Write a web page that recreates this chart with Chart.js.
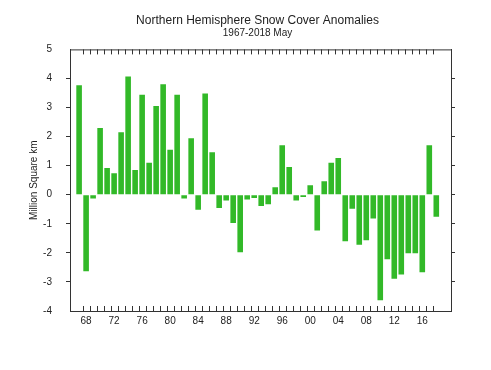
<!DOCTYPE html>
<html>
<head>
<meta charset="utf-8">
<script src="https://cdn.jsdelivr.net/npm/chart.js@4/dist/chart.umd.min.js"></script>
<style>
  html, body { margin: 0; padding: 0; background: #fff; }
  #wrap { width: 491px; height: 370px; }
</style>
</head>
<body>
<div id="wrap"><canvas id="c" width="491" height="370"></canvas></div>
<script>
const years = [];
for (let y = 1967; y <= 2018; y++) years.push(y);

// May snow cover anomalies, million km2
const anomalies = [
  3.77, -2.63, -0.13, 2.30, 0.92, 0.74, 2.15, 4.07, 0.85, 3.44,
  1.10, 3.05, 3.80, 1.55, 3.44, -0.13, 1.94, -0.52, 3.48, 1.46,
  -0.46, -0.20, -0.97, -1.98, -0.16, -0.11, -0.39, -0.33, 0.26, 1.70,
  0.95, -0.20, -0.08, 0.33, -1.23, 0.46, 1.10, 1.26, -1.60, -0.48,
  -1.72, -1.57, -0.82, -3.63, -2.22, -2.89, -2.74, -2.01, -2.01, -2.67,
  1.70, -0.76
];

const yTicks = [-4, -3, -2, -1, 0, 1, 2, 3, 4, 5];
const labelYears = [1968, 1972, 1976, 1980, 1984, 1988, 1992, 1996, 2000, 2004, 2008, 2012, 2016];

const axisColor = "#333";
// no tick marks at the frame corners
const tickColor = (c) => (c.tick && (c.tick.value === 5 || c.tick.value === -4) ? "rgba(0,0,0,0)" : axisColor);

// frame top line + inward year ticks on top and bottom
const frameTicks = {
  id: "frameTicks",
  afterDraw(chart) {
    const { ctx, chartArea, scales } = chart;
    ctx.save();
    ctx.strokeStyle = axisColor;
    ctx.lineWidth = 1;
    ctx.beginPath();
    ctx.moveTo(chartArea.left, chartArea.top + 0.5);
    ctx.lineTo(chartArea.right, chartArea.top + 0.5);
    for (let y = 1967; y <= 2017; y++) {
      const px = Math.round(scales.x.getPixelForValue(y + 0.5)) + 0.5;
      ctx.moveTo(px, chartArea.top);
      ctx.lineTo(px, chartArea.top + 5);
      ctx.moveTo(px, chartArea.bottom);
      ctx.lineTo(px, chartArea.bottom - 5);
    }
    ctx.stroke();
    ctx.restore();
  },
};

new Chart(document.getElementById("c"), {
  type: "bar",
  data: {
    datasets: [
      {
        label: "Anomaly",
        data: years.map((y, i) => ({ x: y, y: anomalies[i] })),
        backgroundColor: "rgb(50,185,40)",
        borderWidth: 0,
        categoryPercentage: 1,
        barPercentage: 0.8,
      },
    ],
  },
  options: {
    responsive: false,
    animation: false,
    layout: { padding: { left: 24, right: 0, top: 0, bottom: 0 } },
    plugins: {
      legend: { display: false },
      tooltip: { enabled: false },
      title: {
        display: true,
        text: "Northern Hemisphere Snow Cover Anomalies",
        color: "#222",
        font: { family: "'Liberation Sans', Arial, sans-serif", size: 12, weight: "normal" },
        padding: { top: 13, bottom: 0 },
      },
      subtitle: {
        display: true,
        text: "1967-2018 May",
        color: "#222",
        font: { family: "'Liberation Sans', Arial, sans-serif", size: 10 },
        padding: { top: 0, bottom: 10 },
      },
    },
    scales: {
      x: {
        type: "linear",
        offset: false,
        min: 1965.7,
        max: 2020.1,
        afterFit: (s) => { s.height = 59; },
        afterBuildTicks: (s) => { s.ticks = labelYears.map((v) => ({ value: v })); },
        ticks: {
          color: "#222",
          padding: 4,
          autoSkip: false,
          maxRotation: 0,
          font: { family: "'Liberation Sans', Arial, sans-serif", size: 10 },
          callback: (v) => String(v % 100).padStart(2, "0"),
        },
        grid: { display: false, drawTicks: false, offset: false },
        border: { display: true, color: axisColor },
      },
      y: {
        min: -4,
        max: 5,
        afterFit: (s) => { s.width = 46; },
        afterBuildTicks: (s) => { s.ticks = yTicks.map((v) => ({ value: v })); },
        title: {
          display: true,
          text: "Million Square km",
          color: "#222",
          font: { family: "'Liberation Sans', Arial, sans-serif", size: 10 },
          padding: { top: 4, bottom: 0 },
        },
        ticks: {
          color: "#222",
          padding: 14,
          font: { family: "'Liberation Sans', Arial, sans-serif", size: 10 },
        },
        grid: { drawOnChartArea: false, tickLength: 4, color: tickColor },
        border: { display: true, color: axisColor },
      },
      y2: {
        position: "right",
        min: -4,
        max: 5,
        afterFit: (s) => { s.width = 40; },
        afterBuildTicks: (s) => { s.ticks = yTicks.map((v) => ({ value: v })); },
        ticks: { display: false },
        grid: { drawOnChartArea: false, tickLength: 4, color: tickColor },
        border: { display: true, color: axisColor },
      },
    },
  },
  plugins: [frameTicks],
});
</script>
</body>
</html>
